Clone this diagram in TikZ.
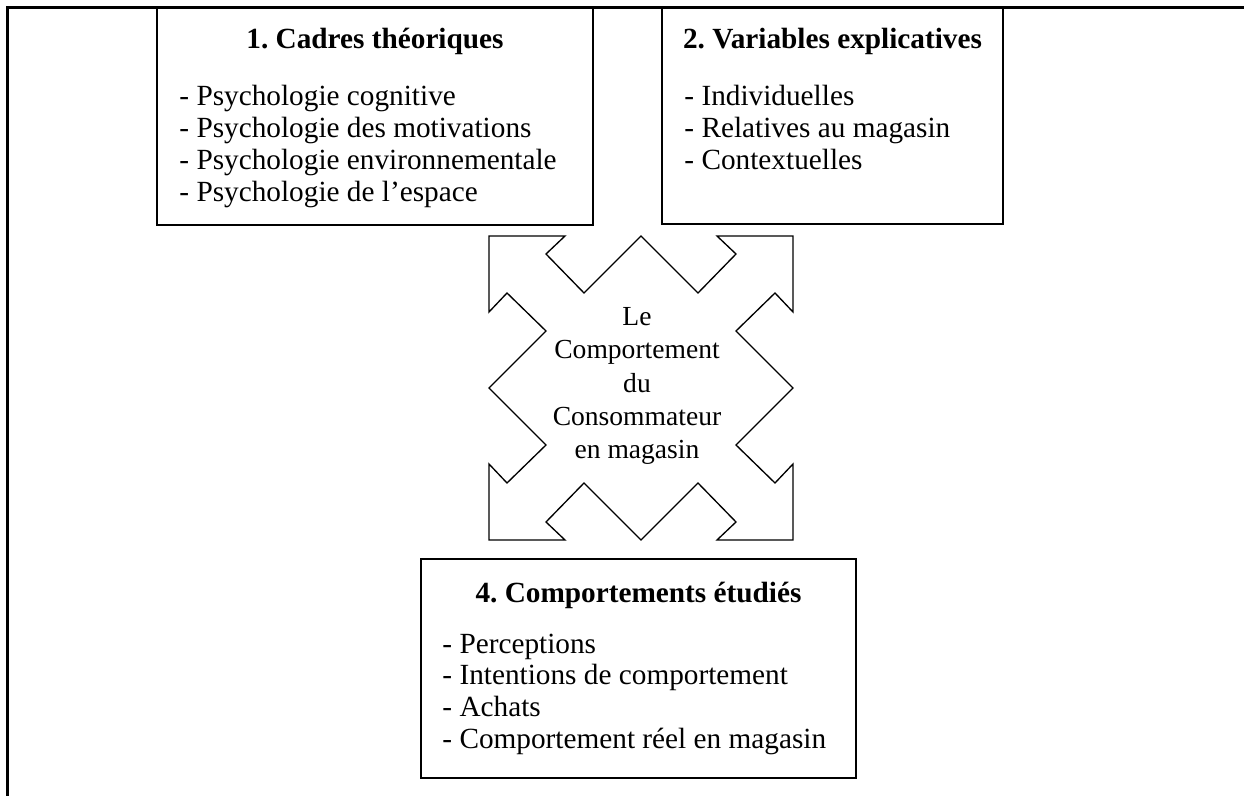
\documentclass[tikz,border=0pt]{standalone}
\usepackage{fontspec}
\setmainfont{Liberation Serif}
\newcommand\pxu{0.41pt}

\begin{document}
\frenchspacing
\begin{tikzpicture}[x=\pxu, y=-\pxu, line join=miter,
    font=\fontsize{12}{12.3}\selectfont,
    framebox/.style={draw, line width=0.6pt, inner sep=0pt},
    heading/.style={anchor=base, inner sep=0pt, font=\fontsize{12}{12.3}\selectfont\bfseries},
    listitem/.style={anchor=base west, inner sep=0pt}]
    \useasboundingbox (0,0) rectangle (1244,796);

    % page frame (left and top only)
    \draw[line width=0.9pt] (7.5,796) -- (7.5,7.5) -- (1244,7.5);

    % 1. cadres
    \node[framebox, minimum width=436*\pxu, minimum height=218*\pxu] (cadres) at (375,116) {};
    \node[heading] (cadrestitle) at (375,49) {1. Cadres théoriques};
    \foreach \y/\txt [count=\i] in {
        106/Psychologie cognitive,
        138/Psychologie des motivations,
        170/Psychologie environnementale,
        202/Psychologie de l’espace}
    {
        \node[listitem] (cadres\i) at (179,\y) {- \txt};
    }

    % 2. variables
    \node[framebox, minimum width=341*\pxu, minimum height=217*\pxu] (variables) at (832.5,115.5) {};
    \node[heading] (variablestitle) at (832.5,49) {2. Variables explicatives};
    \foreach \y/\txt [count=\i] in {
        106/Individuelles,
        138/Relatives au magasin,
        170/Contextuelles}
    {
        \node[listitem] (variables\i) at (684,\y) {- \txt};
    }

    % 4. comportements
    \node[framebox, minimum width=435*\pxu, minimum height=219*\pxu] (comportements) at (638.5,668.5) {};
    \node[heading] (comportementstitle) at (638.5,603) {4. Comportements étudiés};
    \foreach \y/\txt [count=\i] in {
        654/Perceptions,
        685/Intentions de comportement,
        717/Achats,
        749/Comportement réel en magasin}
    {
        \node[listitem] (comportements\i) at (442,\y) {- \txt};
    }

    % central star with four corner arrows
    \draw[line width=0.55pt, shift={(641,388)}]
        (-152,-152) -- (-76,-152) -- (-95,-134) -- (-57,-95) -- (0,-152)
        -- (57,-95) -- (95,-134) -- (76,-152) -- (152,-152)
        -- (152,-76) -- (134,-95) -- (95,-57) -- (152,0)
        -- (95,57) -- (134,95) -- (152,76) -- (152,152)
        -- (76,152) -- (95,134) -- (57,95) -- (0,152)
        -- (-57,95) -- (-95,134) -- (-76,152) -- (-152,152)
        -- (-152,76) -- (-134,95) -- (-95,57) -- (-152,0)
        -- (-95,-57) -- (-134,-95) -- (-152,-76) -- cycle;
    \node[align=center, inner sep=0pt, font=\fontsize{11.3}{13.7}\selectfont] (centre) at (637,386)
        {Le\\Comportement\\du\\Consommateur\\en magasin};
\end{tikzpicture}
\end{document}
